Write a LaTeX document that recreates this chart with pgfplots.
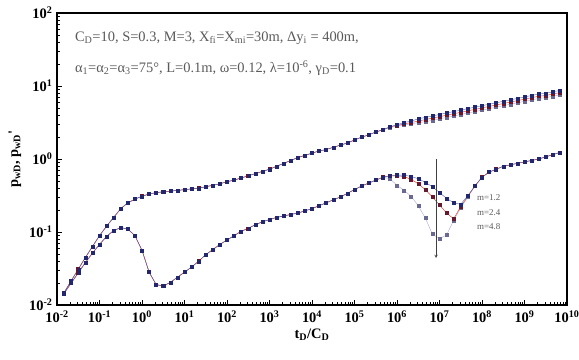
\documentclass[border=0pt]{standalone}
\usepackage{fontspec}
\setmainfont{Liberation Serif}
\usepackage{pgfplots}
\usepackage{pgfplotstable}
\pgfplotsset{compat=1.18}
\definecolor{cA}{RGB}{35,40,110}
\definecolor{cAl}{RGB}{90,95,170}
\definecolor{cB}{RGB}{100,25,45}
\definecolor{cBl}{RGB}{225,70,55}
\definecolor{cC}{RGB}{105,105,145}
\definecolor{cCl}{RGB}{175,165,215}
\definecolor{anno}{RGB}{90,90,90}
% lt = log10(tD/CD); p*, d* = log10 of pressure and derivative (m=1.2, 2.4, 4.8)
\pgfplotstableread{
lt p1 p2 p3 d1 d2 d3
-1.833 -1.83 -1.83 -1.83 -1.84 -1.84 -1.84
-1.667 -1.67 -1.67 -1.67 -1.70 -1.70 -1.70
-1.500 -1.51 -1.51 -1.51 -1.56 -1.56 -1.56
-1.333 -1.35 -1.35 -1.35 -1.42 -1.42 -1.42
-1.167 -1.20 -1.20 -1.20 -1.29 -1.29 -1.29
-1.000 -1.05 -1.05 -1.05 -1.17 -1.17 -1.17
-0.833 -0.92 -0.92 -0.92 -1.06 -1.06 -1.06
-0.667 -0.80 -0.80 -0.80 -0.98 -0.98 -0.98
-0.500 -0.68 -0.68 -0.68 -0.94 -0.94 -0.94
-0.333 -0.60 -0.60 -0.60 -0.96 -0.96 -0.96
-0.167 -0.55 -0.55 -0.55 -1.05 -1.05 -1.05
0.000 -0.51 -0.51 -0.51 -1.25 -1.25 -1.25
0.167 -0.48 -0.48 -0.48 -1.55 -1.55 -1.55
0.333 -0.46 -0.46 -0.46 -1.72 -1.72 -1.72
0.500 -0.45 -0.45 -0.45 -1.74 -1.74 -1.74
0.667 -0.44 -0.44 -0.44 -1.69 -1.69 -1.69
0.833 -0.43 -0.43 -0.43 -1.62 -1.62 -1.62
1.000 -0.42 -0.42 -0.42 -1.55 -1.55 -1.55
1.167 -0.41 -0.41 -0.41 -1.48 -1.48 -1.48
1.333 -0.40 -0.40 -0.40 -1.40 -1.40 -1.40
1.500 -0.38 -0.38 -0.38 -1.31 -1.31 -1.31
1.667 -0.36 -0.36 -0.36 -1.24 -1.24 -1.24
1.833 -0.34 -0.34 -0.34 -1.17 -1.17 -1.17
2.000 -0.31 -0.31 -0.31 -1.11 -1.11 -1.11
2.167 -0.29 -0.29 -0.29 -1.05 -1.05 -1.05
2.333 -0.26 -0.26 -0.26 -0.99 -0.99 -0.99
2.500 -0.23 -0.23 -0.23 -0.95 -0.95 -0.95
2.667 -0.20 -0.20 -0.20 -0.90 -0.90 -0.90
2.833 -0.17 -0.17 -0.17 -0.86 -0.86 -0.86
3.000 -0.14 -0.14 -0.14 -0.83 -0.83 -0.83
3.167 -0.10 -0.10 -0.10 -0.80 -0.80 -0.80
3.333 -0.06 -0.06 -0.06 -0.78 -0.78 -0.78
3.500 -0.02 -0.02 -0.02 -0.76 -0.76 -0.76
3.667 0.02 0.02 0.02 -0.74 -0.74 -0.74
3.833 0.05 0.05 0.05 -0.71 -0.71 -0.71
4.000 0.08 0.08 0.08 -0.68 -0.68 -0.68
4.167 0.11 0.11 0.11 -0.64 -0.64 -0.64
4.333 0.13 0.13 0.13 -0.60 -0.60 -0.60
4.500 0.16 0.16 0.16 -0.56 -0.56 -0.56
4.667 0.19 0.19 0.19 -0.52 -0.52 -0.52
4.833 0.22 0.22 0.22 -0.47 -0.47 -0.47
5.000 0.26 0.26 0.26 -0.42 -0.42 -0.42
5.167 0.30 0.30 0.30 -0.37 -0.37 -0.37
5.333 0.33 0.33 0.33 -0.33 -0.33 -0.33
5.500 0.37 0.37 0.37 -0.29 -0.29 -0.29
5.667 0.40 0.40 0.40 -0.25 -0.25 -0.25
5.833 0.44 0.44 0.43 -0.23 -0.23 -0.27
6.000 0.47 0.46 0.45 -0.22 -0.23 -0.36
6.167 0.50 0.48 0.47 -0.22 -0.24 -0.43
6.333 0.52 0.50 0.48 -0.24 -0.28 -0.51
6.500 0.55 0.52 0.50 -0.27 -0.34 -0.64
6.667 0.57 0.54 0.51 -0.32 -0.42 -0.81
6.833 0.59 0.56 0.53 -0.38 -0.52 -1.03
7.000 0.61 0.58 0.55 -0.46 -0.63 -1.09
7.167 0.63 0.60 0.57 -0.54 -0.74 -1.04
7.333 0.65 0.62 0.59 -0.60 -0.82 -0.84
7.500 0.67 0.64 0.61 -0.62 -0.65 -0.67
7.667 0.69 0.66 0.63 -0.50 -0.51 -0.52
7.833 0.71 0.68 0.65 -0.37 -0.37 -0.37
8.000 0.73 0.70 0.67 -0.25 -0.25 -0.25
8.167 0.75 0.72 0.69 -0.18 -0.18 -0.18
8.333 0.77 0.74 0.71 -0.14 -0.14 -0.14
8.500 0.79 0.76 0.73 -0.10 -0.10 -0.10
8.667 0.81 0.78 0.75 -0.08 -0.08 -0.08
8.833 0.83 0.80 0.77 -0.06 -0.06 -0.06
9.000 0.85 0.82 0.79 -0.04 -0.04 -0.04
9.167 0.87 0.84 0.81 -0.02 -0.02 -0.02
9.333 0.89 0.86 0.83 0.00 0.00 0.00
9.500 0.90 0.87 0.84 0.03 0.03 0.03
9.667 0.92 0.89 0.86 0.06 0.06 0.06
9.833 0.94 0.91 0.88 0.09 0.09 0.09
}\data
\begin{document}
\begin{tikzpicture}
\useasboundingbox (-57bp,-55bp) rectangle (522bp,305bp);
\begin{axis}[
  at={(0,0)}, anchor=south west,
  scale only axis, width=510bp, height=292bp,
  xmode=log, ymode=log,
  xmin=1e-2, xmax=1e10, ymin=1e-2, ymax=1e2,
  axis line style={line width=1.1pt, black},
  xtick pos=bottom, ytick pos=left, tick align=inside,
  major tick length=5bp, minor tick length=3bp,
  every tick/.style={black, line width=0.5pt},
  xtick={1e-2,1e-1,1e0,1e1,1e2,1e3,1e4,1e5,1e6,1e7,1e8,1e9,1e10},
  xticklabels={10\textsuperscript{-2},10\textsuperscript{-1},10\textsuperscript{0},10\textsuperscript{1},10\textsuperscript{2},10\textsuperscript{3},10\textsuperscript{4},10\textsuperscript{5},10\textsuperscript{6},10\textsuperscript{7},10\textsuperscript{8},10\textsuperscript{9},10\textsuperscript{10}},
  ytick={1e-2,1e-1,1e0,1e1,1e2},
  yticklabels={10\textsuperscript{-2},10\textsuperscript{-1},10\textsuperscript{0},10\textsuperscript{1},10\textsuperscript{2}},
  tick label style={font=\bfseries\fontsize{14.5}{14.5}\selectfont},
  xticklabel style={yshift=-2.5bp},
  yticklabel style={xshift=-1bp},
  xlabel={t\textsubscript{D}/C\textsubscript{D}},
  ylabel={p\textsubscript{wD}, p\textsubscript{wD}\textquotesingle},
  label style={font=\bfseries\fontsize{14.5}{14.5}\selectfont},
  xlabel style={yshift=1bp},
  ylabel style={yshift=1bp},
]
% m = 4.8
\addplot[color=cCl, line width=0.4pt, mark=square*, mark size=1.5bp, mark options={draw=cC, fill=cC}] table[x expr=10^\thisrow{lt}, y expr=10^\thisrow{p3}]{\data};
\addplot[color=cCl, line width=0.4pt, mark=square*, mark size=1.5bp, mark options={draw=cC, fill=cC}] table[x expr=10^\thisrow{lt}, y expr=10^\thisrow{d3}]{\data};
% m = 2.4
\addplot[color=cBl, line width=0.5pt, mark=square*, mark size=1.5bp, mark options={draw=cB, fill=cB}] table[x expr=10^\thisrow{lt}, y expr=10^\thisrow{p2}]{\data};
\addplot[color=cBl, line width=0.5pt, mark=square*, mark size=1.5bp, mark options={draw=cB, fill=cB}] table[x expr=10^\thisrow{lt}, y expr=10^\thisrow{d2}]{\data};
% m = 1.2
\addplot[color=cAl, line width=0.4pt, mark=square*, mark size=1.5bp, mark options={draw=cA, fill=cA}] table[x expr=10^\thisrow{lt}, y expr=10^\thisrow{p1}]{\data};
\addplot[color=cAl, line width=0.4pt, mark=square*, mark size=1.5bp, mark options={draw=cA, fill=cA}] table[x expr=10^\thisrow{lt}, y expr=10^\thisrow{d1}]{\data};
% arrow and labels
\draw[black!75, line width=0.5pt, -stealth] (axis cs:8.3e6,1.0) -- (axis cs:8.3e6,0.044);
\node[anchor=west, text=anno, font=\fontsize{9}{9}\selectfont, inner sep=0pt] at (axis cs:7.6e7,0.30) {m=1.2};
\node[anchor=west, text=anno, font=\fontsize{9}{9}\selectfont, inner sep=0pt] at (axis cs:7.6e7,0.186) {m=2.4};
\node[anchor=west, text=anno, font=\fontsize{9}{9}\selectfont, inner sep=0pt] at (axis cs:7.6e7,0.12) {m=4.8};
\node[anchor=west, text=anno, font=\fontsize{14.5}{14.5}\selectfont, inner sep=0pt] at (rel axis cs:0.035,0.914) {C\textsubscript{D}=10, S=0.3, M=3, X\textsubscript{fi}=X\textsubscript{mi}=30m, Δy\textsubscript{i} = 400m,};
\node[anchor=west, text=anno, font=\fontsize{14.5}{14.5}\selectfont, inner sep=0pt] at (rel axis cs:0.035,0.812) {α\textsubscript{1}=α\textsubscript{2}=α\textsubscript{3}=75°, L=0.1m, ω=0.12, λ=10\textsuperscript{-6}, γ\textsubscript{D}=0.1};
\end{axis}
\end{tikzpicture}
\end{document}
